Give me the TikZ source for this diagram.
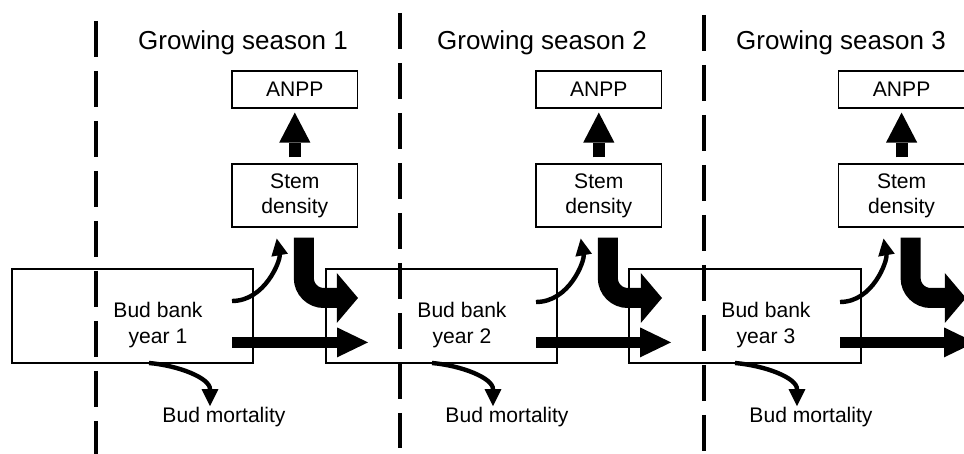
\documentclass[tikz,border=0pt]{standalone}
\usepackage{fontspec}
\setmainfont{Liberation Sans}
\usetikzlibrary{arrows.meta}
\tikzset{
  season/.style={font=\fontsize{18.5}{22}\selectfont, anchor=base, inner sep=0pt},
  box/.style={draw, line width=0.85pt, align=center, font=\fontsize{15}{18}\selectfont, inner sep=0pt},
  txt/.style={align=center, font=\fontsize{15}{18.5}\selectfont, inner sep=0pt},
  divider/.style={line width=0.1cm, dash pattern=on 0.9cm off 0.35cm},
  up arrow/.style={line width=0.3cm, -{Triangle[width=0.78cm,length=0.75cm,line width=0pt]}},
  bank arrow/.style={line width=0.275cm, -{Triangle[width=0.75cm,length=0.775cm,line width=0pt]}},
  stem arrow/.style={line width=0.5cm, rounded corners=0.5cm, -{Triangle[width=1.25cm,length=0.53cm,line width=0pt]}},
  thin arrow/.style={line width=0.11cm, -{Triangle[width=0.42cm,length=0.42cm,line width=0pt]}},
}
\begin{document}
\begin{tikzpicture}
  \useasboundingbox (0,0) rectangle (24.1,11.35);

  %season 1
  \node[season] (gs1) at (6.075,10.1) {Growing season 1};
  \node[box, minimum width=3.14cm, minimum height=0.925cm] (anpp1) at (7.37,9.1125) {ANPP};
  \node[box, minimum width=3.14cm, minimum height=1.575cm] (sd1) at (7.37,6.4625) {Stem\\density};
  \node[box, minimum width=6.025cm, minimum height=2.35cm] (bb1) at (3.3125,3.45) {}; %box
  \node[txt] (bt1) at (3.95,3.225) {Bud bank\\year 1};
  \node[txt, anchor=base] (bm1) at (5.6,0.775) {Bud mortality};
  \coordinate (gr1) at (5.8,3.825);
  \coordinate (st1) at (5.8,2.79);
  \coordinate (sb1) at (9.2,2.79);
  \coordinate (ss1) at (8.95,3.9);
  \coordinate (mo1) at (3.725,2.275);

  %season 2
  \node[season] (gs2) at (13.55,10.1) {Growing season 2};
  \node[box, minimum width=3.14cm, minimum height=0.925cm] (anpp2) at (14.97,9.1125) {ANPP};
  \node[box, minimum width=3.14cm, minimum height=1.575cm] (sd2) at (14.97,6.4625) {Stem\\density};
  \node[box, minimum width=5.775cm, minimum height=2.35cm] (bb2) at (11.0375,3.45) {}; %box
  \node[txt] (bt2) at (11.55,3.225) {Bud bank\\year 2};
  \node[txt, anchor=base] (bm2) at (12.675,0.775) {Bud mortality};
  \coordinate (gr2) at (13.4,3.8);
  \coordinate (st2) at (13.4,2.79);
  \coordinate (sb2) at (16.775,2.79);
  \coordinate (ss2) at (16.55,3.9);
  \coordinate (mo2) at (10.8,2.275);

  %season 3
  \node[season] (gs3) at (21.025,10.1) {Growing season 3};
  \node[box, minimum width=3.14cm, minimum height=0.925cm] (anpp3) at (22.54,9.1125) {ANPP};
  \node[box, minimum width=3.14cm, minimum height=1.575cm] (sd3) at (22.54,6.4625) {Stem\\density};
  \node[box, minimum width=5.8cm, minimum height=2.35cm] (bb3) at (18.625,3.45) {}; %box
  \node[txt] (bt3) at (19.15,3.225) {Bud bank\\year 3};
  \node[txt, anchor=base] (bm3) at (20.275,0.775) {Bud mortality};
  \coordinate (gr3) at (21.0,3.8);
  \coordinate (st3) at (21.0,2.79);
  \coordinate (sb3) at (24.375,2.79);
  \coordinate (ss3) at (24.15,3.9);
  \coordinate (mo3) at (18.375,2.275);

  %dashed lines
  \draw[divider] (2.4,10.825) -- (2.4,-0.5);
  \draw[divider] (10.0,11.025) -- (10.0,0.15);
  \draw[divider] (17.6,10.975) -- (17.6,-0.5);

  %arrows
  \draw[up arrow, shorten <=0.15cm, shorten >=0.1cm] (sd1.north) -- (anpp1.south);
  \draw[up arrow, shorten <=0.15cm, shorten >=0.1cm] (sd2.north) -- (anpp2.south);
  \draw[up arrow, shorten <=0.15cm, shorten >=0.1cm] (sd3.north) -- (anpp3.south);
  \draw[thin arrow, shorten >=0.28cm] (gr1) to[out=0,in=-80] ([xshift=-0.5cm]sd1.south); %bud to stem
  \draw[thin arrow, shorten >=0.28cm] (gr2) to[out=0,in=-80] ([xshift=-0.5cm]sd2.south);
  \draw[thin arrow, shorten >=0.28cm] (gr3) to[out=0,in=-80] ([xshift=-0.5cm]sd3.south);
  \draw[stem arrow, shorten <=0.25cm] ([xshift=0.225cm]sd1.south) |- (ss1); %stem to next bank
  \draw[stem arrow, shorten <=0.25cm] ([xshift=0.225cm]sd2.south) |- (ss2);
  \draw[stem arrow, shorten <=0.25cm] ([xshift=0.225cm]sd3.south) |- (ss3);
  \draw[bank arrow] (st1) -- (sb1); %bank to next bank
  \draw[bank arrow] (st2) -- (sb2);
  \draw[bank arrow] (st3) -- (sb3);
  \draw[thin arrow, shorten >=1pt] (mo1) to[out=-5,in=90] ([xshift=-0.35cm]bm1.north); %mortality
  \draw[thin arrow, shorten >=1pt] (mo2) to[out=-5,in=90] ([xshift=-0.35cm]bm2.north);
  \draw[thin arrow, shorten >=1pt] (mo3) to[out=-5,in=90] ([xshift=-0.35cm]bm3.north);
\end{tikzpicture}
\end{document}
